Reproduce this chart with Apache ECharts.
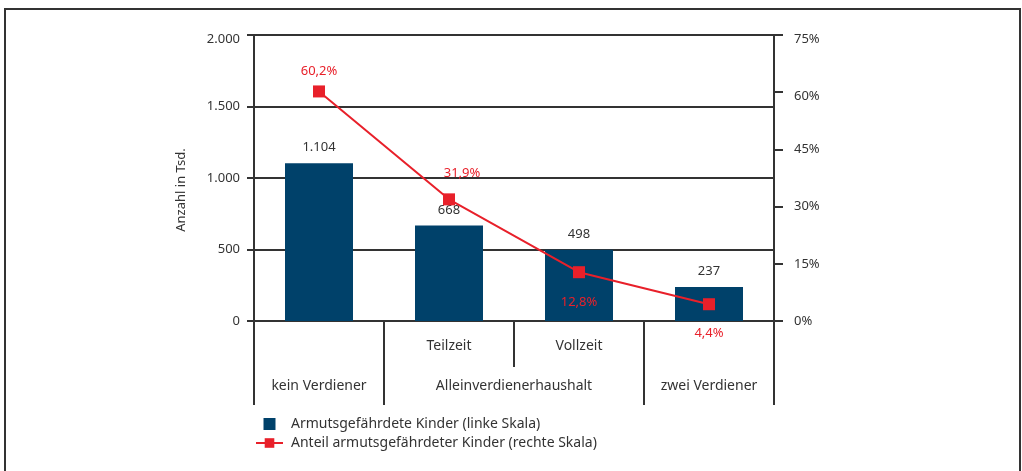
<!DOCTYPE html>
<html>
<head>
<meta charset="utf-8">
<script src="https://cdn.jsdelivr.net/npm/echarts@6/dist/echarts.min.js"></script>
<style>
  html, body { margin: 0; padding: 0; background: #fff; }
  #app { position: absolute; left: 0; top: 0; width: 1022px; height: 471px; }
  #frame {
    position: absolute; left: 4px; top: 8px; width: 1013px; height: 480px;
    border: 2px solid #333; pointer-events: none;
  }
</style>
</head>
<body>
<div id="app"></div>
<div id="frame"></div>
<script>
// categories (one per bar)
const categories = ["kein Verdiener", "Teilzeit", "Vollzeit", "zwei Verdiener"];
// first label row under the axis
const subLabels = ["", "Teilzeit", "Vollzeit", ""];
// second label row: household groups and the bar range they span
const groupNames = ["kein Verdiener", "Alleinverdienerhaushalt", "zwei Verdiener"];
const groupSpans = [[0, 1], [1, 3], [3, 4]];

// values
const childrenAtRisk = [1104, 668, 498, 237];        // Tsd., left scale
const shareAtRisk = [60.2, 31.9, 12.8, 4.4];         // %, right scale

const seriesNames = [
  "Armutsgefährdete Kinder (linke Skala)",
  "Anteil armutsgefährdeter Kinder (rechte Skala)"
];

// label placement for the red line (style only)
const lineLabelPlacement = [
  { position: "top", distance: 8 },
  { position: "top", distance: 14, offset: [13, 0] },
  { position: "bottom", distance: 18 },
  { position: "bottom", distance: 17 }
];

const FONT = "Noto Sans";
const DARK = "#333";
const BLUE = "#00416a";
const RED = "#e8202a";

function thousands(v) {
  return String(v).replace(/\B(?=(\d{3})+(?!\d))/g, ".");
}
function pct(v) {
  return v.toFixed(1).replace(".", ",") + "%";
}

const boundaries = [];
groupSpans.forEach(s => {
  if (boundaries.indexOf(s[0]) < 0) boundaries.push(s[0]);
  if (boundaries.indexOf(s[1]) < 0) boundaries.push(s[1]);
});
const groupMids = groupSpans.map(s => (s[0] + s[1]) / 2);

const chart = echarts.init(document.getElementById("app"));

chart.setOption({
  animation: false,
  backgroundColor: "#fff",
  textStyle: { fontFamily: FONT, color: DARK },
  grid: { left: 254, right: 248, top: 35, bottom: 150 },
  legend: {
    orient: "vertical",
    left: 250,
    top: 412,
    itemWidth: 27,
    itemHeight: 12,
    itemGap: 5,
    textStyle: { fontFamily: FONT, fontSize: 14, color: DARK, padding: [0, 0, 0, 3] },
    data: [
      { name: seriesNames[0], icon: "path://M0,0h10v10h-10z" },
      { name: seriesNames[1] }
    ]
  },
  xAxis: [
    {
      type: "category",
      data: categories,
      position: "bottom",
      axisLine: { lineStyle: { color: DARK, width: 2 } },
      axisTick: { show: true, length: 46, lineStyle: { color: DARK, width: 2 } },
      axisLabel: {
        interval: 0,
        margin: 18,
        fontSize: 14,
        color: DARK,
        formatter: (v, i) => subLabels[i]
      },
      splitLine: { show: false }
    },
    {
      type: "value",
      min: 0,
      max: categories.length,
      position: "bottom",
      axisLine: { show: false },
      axisTick: {
        show: true,
        length: 84,
        customValues: boundaries,
        lineStyle: { color: DARK, width: 2 }
      },
      axisLabel: {
        margin: 58,
        fontSize: 14,
        color: DARK,
        customValues: groupMids,
        formatter: v => groupNames[groupMids.indexOf(v)] || ""
      },
      splitLine: { show: false }
    }
  ],
  yAxis: [
    {
      type: "value",
      min: 0,
      max: 2000,
      interval: 500,
      name: "Anzahl in Tsd.",
      nameLocation: "middle",
      nameGap: 66,
      nameTextStyle: { fontSize: 13, color: DARK, padding: [0, 24, 0, 0] },
      axisLine: { show: true, lineStyle: { color: DARK, width: 2 } },
      axisTick: { show: true, length: 7, lineStyle: { color: DARK, width: 2 } },
      axisLabel: {
        margin: 14, fontSize: 13, color: DARK,
        formatter: v => v === 2000 ? "{top|" + thousands(v) + "}" : thousands(v),
        rich: { top: { fontSize: 13, color: DARK, padding: [9, 0, 0, 0] } }
      },
      splitLine: { show: true, lineStyle: { color: DARK, width: 2 } }
    },
    {
      type: "value",
      min: 0,
      max: 75,
      interval: 15,
      position: "right",
      axisLine: { show: true, lineStyle: { color: DARK, width: 2 } },
      axisTick: { show: true, length: 9, lineStyle: { color: DARK, width: 2 } },
      axisLabel: {
        margin: 20, fontSize: 13, color: DARK,
        formatter: v => v >= 60 ? "{top|" + v + "%}" : v + "%",
        rich: { top: { fontSize: 13, color: DARK, padding: [9, 0, 0, 0] } }
      },
      splitLine: { show: false }
    }
  ],
  series: [
    {
      name: seriesNames[0],
      type: "bar",
      xAxisIndex: 0,
      yAxisIndex: 0,
      barWidth: 68,
      itemStyle: { color: BLUE },
      label: {
        show: true,
        position: "top",
        distance: 9,
        fontSize: 13,
        color: DARK,
        formatter: p => thousands(p.value)
      },
      data: childrenAtRisk
    },
    {
      name: seriesNames[1],
      type: "line",
      xAxisIndex: 0,
      yAxisIndex: 1,
      symbol: "rect",
      symbolSize: 12,
      itemStyle: { color: RED },
      lineStyle: { color: RED, width: 2 },
      label: {
        show: true,
        fontSize: 13,
        color: RED,
        formatter: p => pct(p.value)
      },
      data: shareAtRisk.map((v, i) => ({ value: v, label: lineLabelPlacement[i] })),
      z: 5
    }
  ]
});
</script>
</body>
</html>
